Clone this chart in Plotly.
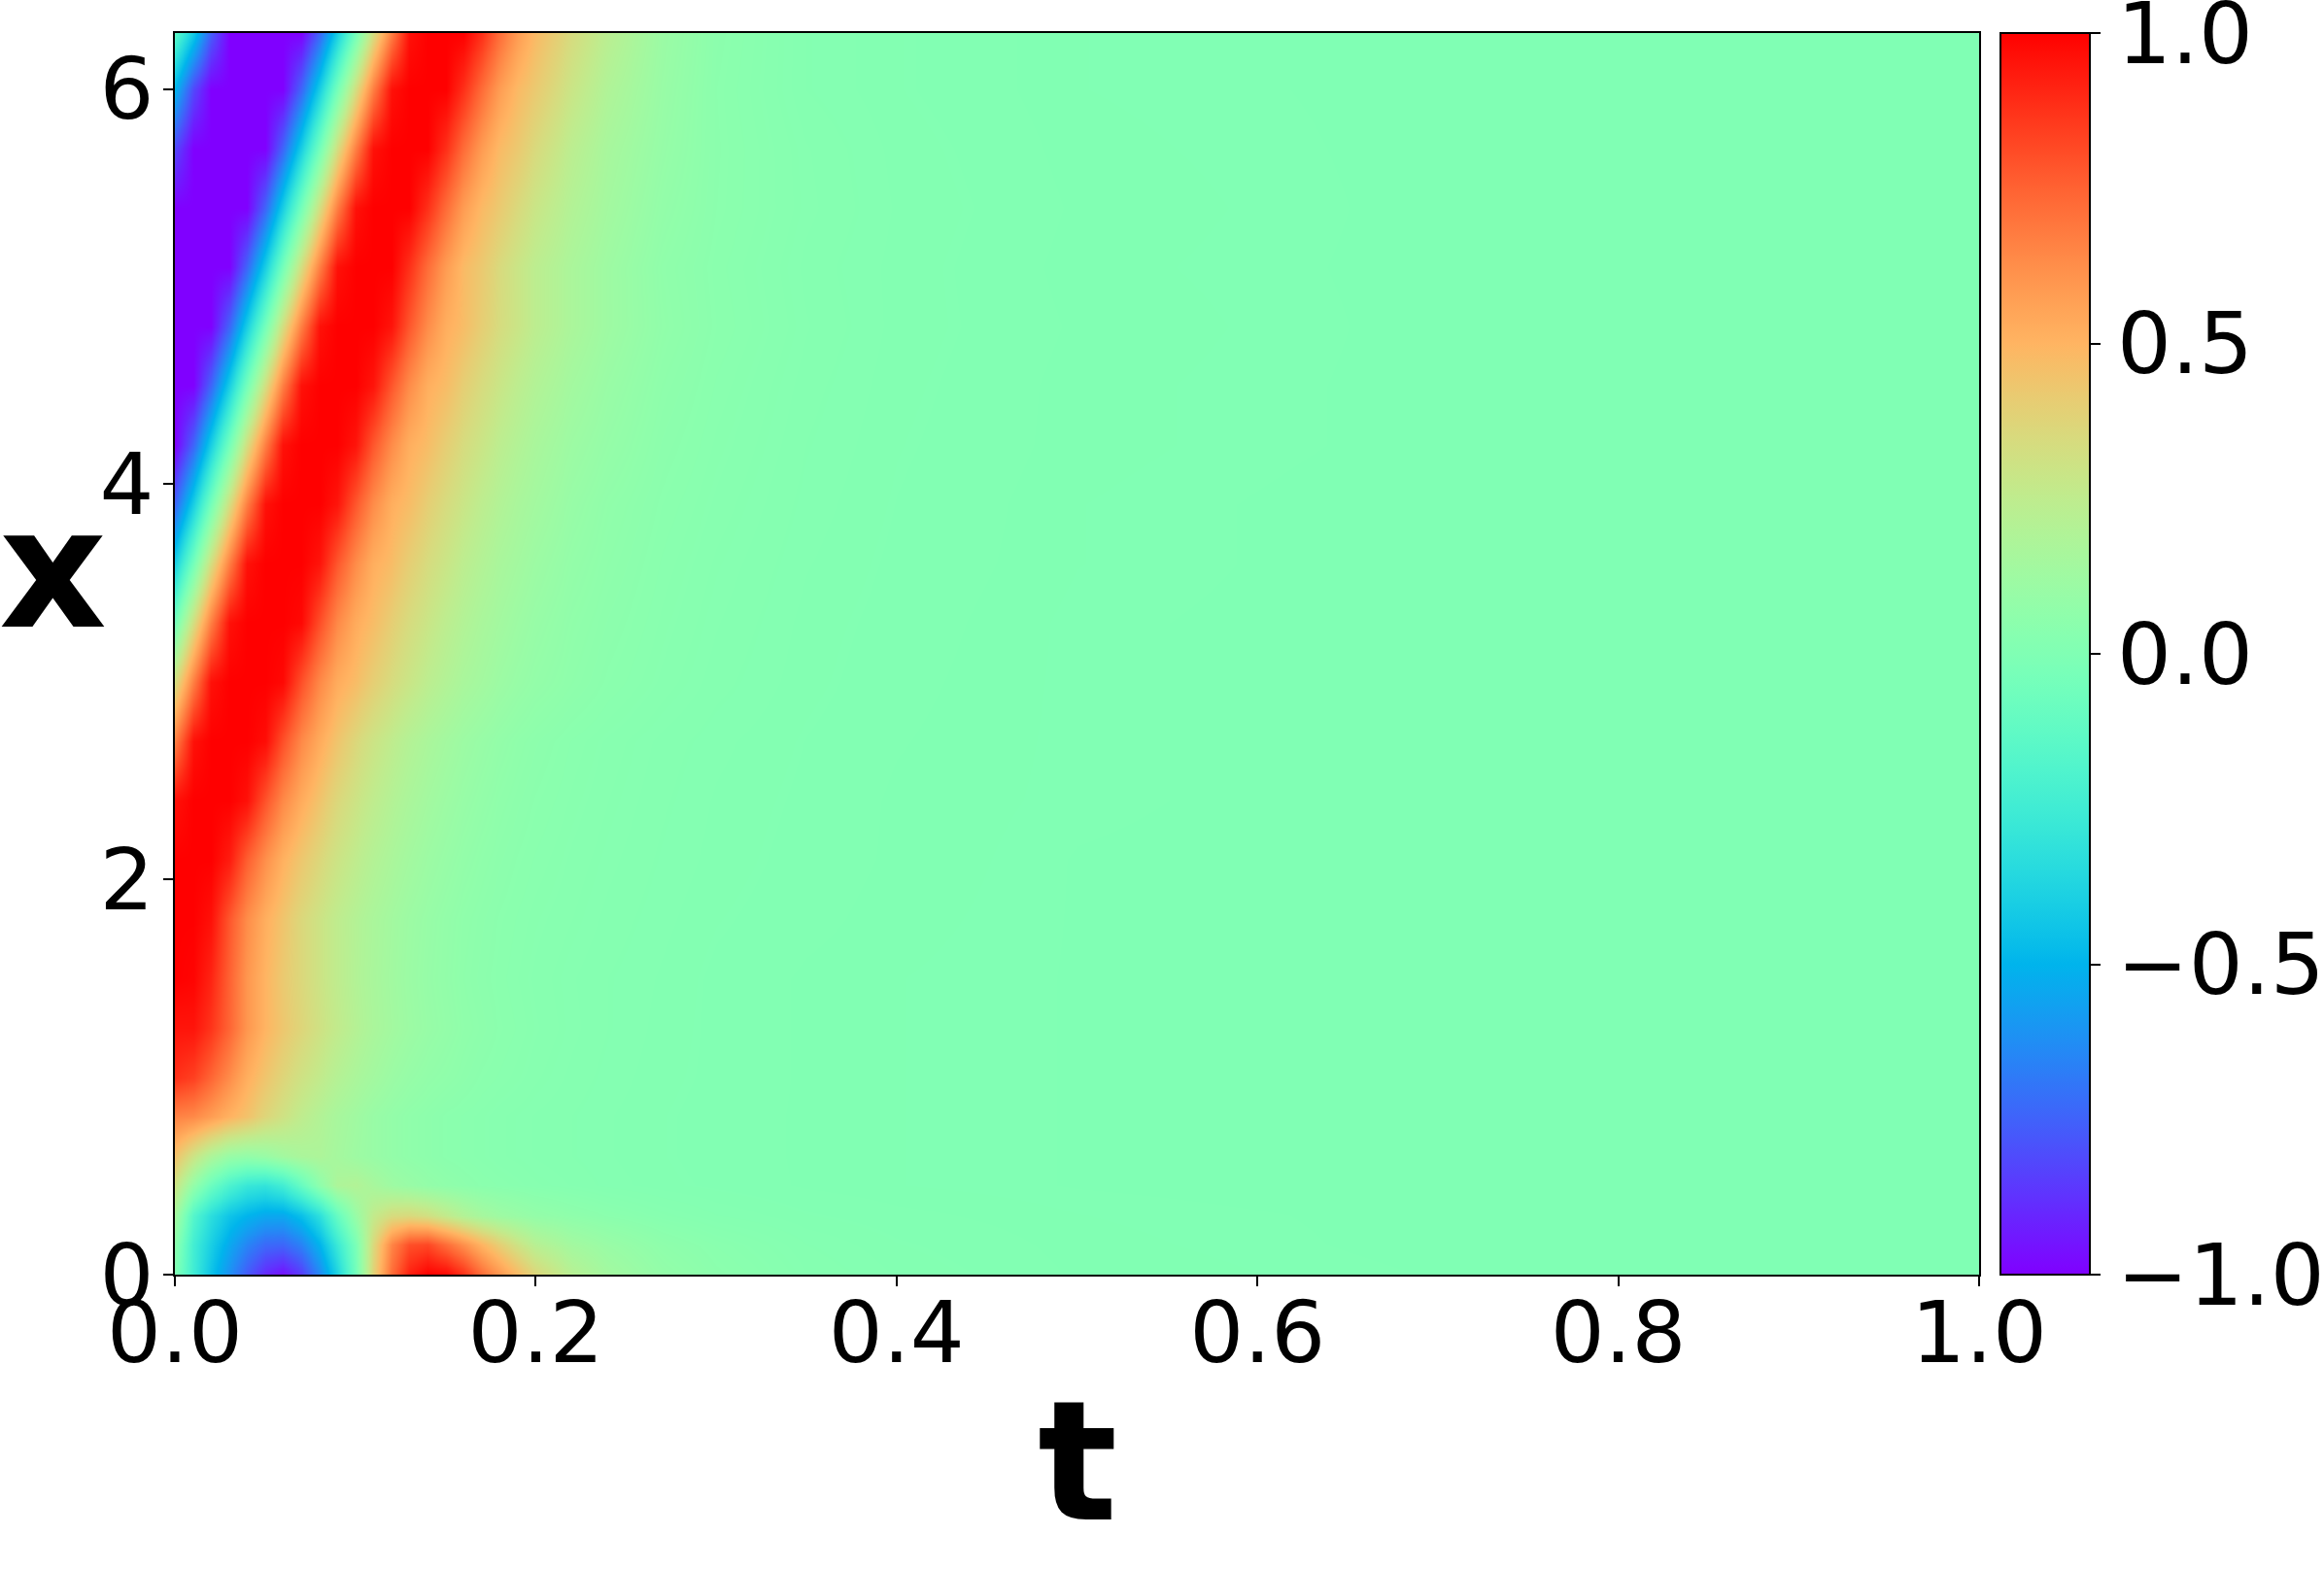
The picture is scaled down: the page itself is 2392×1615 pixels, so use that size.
import numpy as np
import plotly.graph_objects as go

# ---------------- data ----------------
# time coordinates (columns) and space coordinates (rows)
t_vals = [0.00, 0.01, 0.02, 0.03, 0.04, 0.05, 0.06, 0.07, 0.08, 0.09, 0.10,
          0.11, 0.12, 0.13, 0.14, 0.15, 0.16, 0.17, 0.18, 0.19, 0.20,
          0.22, 0.24, 0.27, 0.30, 0.35, 0.40, 0.50, 0.70, 1.00]
x_vals = [0.0, 0.15, 0.3, 0.45, 0.6, 0.8, 1.0, 1.25, 1.5, 1.8, 2.1, 2.4, 2.7,
          3.0, 3.3, 3.6, 3.9, 4.2, 4.5, 4.8, 5.1, 5.4, 5.7, 6.0, 6.283]

u_x000 = [0.0, -0.25, -0.45, -0.62, -0.77, -0.9, -0.96, -0.85, -0.64, -0.38, -0.05, 0.38, 0.72, 0.92, 1.0, 0.98, 0.88, 0.72, 0.6, 0.48, 0.37, 0.22, 0.14, 0.08, 0.05, 0.025, 0.015, 0.006, 0.002, 0.0]
u_x015 = [0.05, -0.24, -0.4, -0.54, -0.65, -0.73, -0.74, -0.66, -0.5, -0.27, -0.02, 0.35, 0.65, 0.8, 0.82, 0.72, 0.62, 0.5, 0.4, 0.3, 0.22, 0.14, 0.1, 0.06, 0.04, 0.02, 0.012, 0.005, 0.001, 0.0]
u_x030 = [0.15, -0.17, -0.33, -0.44, -0.5, -0.54, -0.54, -0.46, -0.32, -0.1, 0.1, 0.26, 0.34, 0.35, 0.32, 0.26, 0.2, 0.15, 0.12, 0.1, 0.08, 0.06, 0.045, 0.03, 0.02, 0.012, 0.008, 0.004, 0.001, 0.0]
u_x045 = [0.3, 0.08, -0.08, -0.2, -0.28, -0.3, -0.24, -0.1, 0.06, 0.18, 0.2, 0.16, 0.12, 0.1, 0.08, 0.065, 0.055, 0.045, 0.04, 0.035, 0.03, 0.024, 0.018, 0.013, 0.01, 0.006, 0.004, 0.002, 0.0, 0.0]
u_x060 = [0.45, 0.3, 0.18, 0.1, 0.08, 0.1, 0.14, 0.17, 0.18, 0.15, 0.12, 0.1, 0.08, 0.065, 0.055, 0.045, 0.04, 0.035, 0.03, 0.027, 0.024, 0.02, 0.016, 0.012, 0.009, 0.006, 0.004, 0.002, 0.0, 0.0]
u_x080 = [0.66, 0.64, 0.58, 0.51, 0.45, 0.37, 0.31, 0.25, 0.2, 0.16, 0.13, 0.1, 0.08, 0.065, 0.055, 0.045, 0.04, 0.035, 0.03, 0.027, 0.024, 0.02, 0.016, 0.012, 0.009, 0.006, 0.004, 0.002, 0.0, 0.0]
u_x100 = [0.88, 0.84, 0.74, 0.63, 0.52, 0.44, 0.37, 0.31, 0.26, 0.21, 0.17, 0.14, 0.11, 0.09, 0.075, 0.065, 0.055, 0.045, 0.04, 0.035, 0.03, 0.023, 0.018, 0.013, 0.01, 0.006, 0.004, 0.002, 0.0, 0.0]
u_x125 = [0.95, 0.95, 0.87, 0.74, 0.6, 0.5, 0.43, 0.37, 0.31, 0.26, 0.21, 0.17, 0.14, 0.115, 0.095, 0.08, 0.065, 0.055, 0.046, 0.04, 0.034, 0.026, 0.02, 0.014, 0.01, 0.006, 0.004, 0.002, 0.0, 0.0]
u_x150 = [1.0, 0.99, 0.91, 0.75, 0.6, 0.5, 0.42, 0.36, 0.3, 0.25, 0.2, 0.165, 0.135, 0.11, 0.09, 0.075, 0.06, 0.05, 0.043, 0.037, 0.032, 0.025, 0.02, 0.015, 0.01, 0.006, 0.004, 0.002, 0.0, 0.0]
u_x180 = [1.0, 1.0, 0.96, 0.78, 0.63, 0.52, 0.44, 0.36, 0.30, 0.25, 0.205, 0.17, 0.14, 0.115, 0.095, 0.078, 0.064, 0.054, 0.046, 0.04, 0.035, 0.029, 0.023, 0.017, 0.012, 0.008, 0.005, 0.002, 0.0, 0.0]
u_x210 = [1.0, 1.0, 1.0, 0.93, 0.76, 0.62, 0.51, 0.43, 0.36, 0.30, 0.25, 0.205, 0.17, 0.14, 0.115, 0.095, 0.078, 0.064, 0.054, 0.046, 0.04, 0.032, 0.026, 0.019, 0.014, 0.009, 0.006, 0.002, 0.0, 0.0]
u_x240 = [0.96, 1.0, 1.0, 1.0, 0.96, 0.79, 0.64, 0.53, 0.44, 0.36, 0.30, 0.25, 0.205, 0.17, 0.14, 0.115, 0.095, 0.078, 0.064, 0.054, 0.046, 0.036, 0.029, 0.021, 0.015, 0.01, 0.006, 0.003, 0.0, 0.0]
u_x270 = [0.67, 0.96, 1.0, 1.0, 1.0, 0.97, 0.80, 0.64, 0.53, 0.44, 0.36, 0.30, 0.25, 0.205, 0.17, 0.14, 0.115, 0.095, 0.078, 0.064, 0.054, 0.04, 0.032, 0.023, 0.017, 0.011, 0.007, 0.003, 0.0, 0.0]
u_x300 = [0.33, 0.67, 0.96, 1.0, 1.0, 1.0, 0.98, 0.80, 0.64, 0.53, 0.47, 0.40, 0.34, 0.29, 0.24, 0.20, 0.165, 0.14, 0.115, 0.095, 0.08, 0.06, 0.045, 0.032, 0.022, 0.013, 0.008, 0.003, 0.0, 0.0]
u_x330 = [-0.04, 0.33, 0.67, 0.96, 1.0, 1.0, 1.0, 0.98, 0.80, 0.64, 0.53, 0.47, 0.40, 0.34, 0.29, 0.24, 0.20, 0.165, 0.14, 0.115, 0.095, 0.068, 0.052, 0.036, 0.025, 0.014, 0.009, 0.003, 0.0, 0.0]
u_x360 = [-0.40, -0.04, 0.33, 0.67, 0.96, 1.0, 1.0, 1.0, 0.95, 0.78, 0.63, 0.52, 0.47, 0.40, 0.34, 0.29, 0.24, 0.20, 0.165, 0.14, 0.115, 0.08, 0.06, 0.04, 0.028, 0.016, 0.01, 0.004, 0.0, 0.0]
u_x390 = [-0.74, -0.40, -0.04, 0.33, 0.67, 0.96, 1.0, 1.0, 1.0, 0.95, 0.78, 0.63, 0.52, 0.47, 0.40, 0.34, 0.29, 0.24, 0.20, 0.165, 0.14, 0.095, 0.068, 0.045, 0.032, 0.018, 0.011, 0.004, 0.0, 0.0]
u_x420 = [-1.0, -0.74, -0.40, -0.04, 0.33, 0.67, 0.96, 1.0, 1.0, 1.0, 0.95, 0.78, 0.63, 0.52, 0.47, 0.40, 0.34, 0.29, 0.24, 0.20, 0.165, 0.115, 0.085, 0.052, 0.036, 0.02, 0.012, 0.005, 0.001, 0.0]
u_x450 = [-1.0, -1.0, -0.74, -0.40, -0.04, 0.33, 0.67, 0.96, 1.0, 1.0, 1.0, 0.95, 0.78, 0.63, 0.52, 0.47, 0.40, 0.34, 0.29, 0.24, 0.20, 0.14, 0.1, 0.06, 0.04, 0.022, 0.013, 0.005, 0.001, 0.0]
u_x480 = [-1.0, -1.0, -1.0, -0.74, -0.40, -0.04, 0.33, 0.67, 0.96, 1.0, 1.0, 1.0, 0.95, 0.78, 0.63, 0.52, 0.47, 0.40, 0.34, 0.29, 0.24, 0.17, 0.12, 0.07, 0.045, 0.025, 0.014, 0.006, 0.001, 0.0]
u_x510 = [-1.0, -1.0, -1.0, -1.0, -0.74, -0.40, -0.04, 0.33, 0.67, 0.96, 1.0, 1.0, 1.0, 0.88, 0.72, 0.58, 0.48, 0.42, 0.35, 0.29, 0.24, 0.17, 0.12, 0.066, 0.043, 0.023, 0.014, 0.005, 0.001, 0.0]
u_x540 = [-1.0, -1.0, -1.0, -1.0, -1.0, -0.74, -0.40, -0.04, 0.33, 0.67, 0.96, 1.0, 1.0, 1.0, 0.88, 0.72, 0.58, 0.48, 0.42, 0.35, 0.29, 0.2, 0.14, 0.078, 0.047, 0.026, 0.015, 0.006, 0.001, 0.0]
u_x570 = [-0.82, -1.0, -1.0, -1.0, -1.0, -1.0, -0.74, -0.40, -0.04, 0.33, 0.67, 0.96, 1.0, 1.0, 1.0, 0.88, 0.72, 0.58, 0.48, 0.42, 0.35, 0.235, 0.157, 0.09, 0.048, 0.025, 0.014, 0.005, 0.001, 0.0]
u_x600 = [-0.50, -0.82, -1.0, -1.0, -1.0, -1.0, -1.0, -0.74, -0.40, -0.04, 0.33, 0.67, 0.96, 1.0, 1.0, 1.0, 0.88, 0.72, 0.58, 0.48, 0.42, 0.29, 0.19, 0.1, 0.047, 0.02, 0.012, 0.004, 0.001, 0.0]
u_x628 = [-0.14, -0.42, -0.76, -1.0, -1.0, -1.0, -1.0, -1.0, -0.74, -0.40, -0.04, 0.33, 0.67, 0.96, 1.0, 1.0, 1.0, 0.88, 0.72, 0.58, 0.48, 0.34, 0.23, 0.11, 0.05, 0.02, 0.012, 0.004, 0.001, 0.0]

u_rows = [u_x000, u_x015, u_x030, u_x045, u_x060, u_x080, u_x100, u_x125, u_x150,
          u_x180, u_x210, u_x240, u_x270, u_x300, u_x330, u_x360, u_x390, u_x420,
          u_x450, u_x480, u_x510, u_x540, u_x570, u_x600, u_x628]

t_ticks = [0.0, 0.2, 0.4, 0.6, 0.8, 1.0]
t_ticktext = ["0.0", "0.2", "0.4", "0.6", "0.8", "1.0"]
x_ticks = [0, 2, 4, 6]
x_ticktext = ["0", "2", "4", "6"]
cb_ticks = [-1.0, -0.5, 0.0, 0.5, 1.0]
cb_ticktext = ["\u22121.0", "\u22120.5", "0.0", "0.5", "1.0"]

# ---------------- style: matplotlib "rainbow" colormap ----------------
def rainbow_rgb(s):
    r = min(1.0, abs(2 * s - 0.5))
    g = np.sin(np.pi * s)
    b = np.cos(np.pi * s / 2)
    return "rgb(%d,%d,%d)" % (round(255 * r), round(255 * max(g, 0)), round(255 * max(b, 0)))

colorscale = [[float(s), rainbow_rgb(float(s))] for s in np.linspace(0, 1, 65)]

W, H = 2392, 1615
L, R, T, B = 180, 2392 - 2037, 34, 1615 - 1312
plot_w = W - L - R
plot_h = H - T - B

tick_font = dict(family="DejaVu Sans", size=88, color="black")

fig = go.Figure(
    go.Heatmap(
        x=t_vals, y=x_vals, z=u_rows,
        zmin=-1, zmax=1, zsmooth="best",
        colorscale=colorscale,
        colorbar=dict(
            thickness=92, thicknessmode="pixels",
            len=plot_h, lenmode="pixels",
            x=(2059 - L) / plot_w, xanchor="left", xpad=0, ypad=0,
            y=0.5, yanchor="middle",
            outlinewidth=2, outlinecolor="black",
            ticks="outside", ticklen=10, tickwidth=2, tickcolor="black",
            tickvals=cb_ticks, ticktext=cb_ticktext,
            tickfont=tick_font, ticklabeloverflow="allow",
        ),
        showscale=True,
    )
)

axis_common = dict(
    showgrid=False, zeroline=False, showline=True, linecolor="black",
    linewidth=2, mirror=True, ticks="outside", ticklen=10, tickwidth=2,
    tickcolor="black", tickfont=tick_font, automargin=False,
    ticklabeloverflow="allow",
)

fig.update_layout(
    width=W, height=H,
    margin=dict(l=L, r=R, t=T, b=B, pad=0, autoexpand=False),
    paper_bgcolor="white", plot_bgcolor="white",
    xaxis=dict(range=[0, 1], tickvals=t_ticks, ticktext=t_ticktext,
               ticklabelstandoff=-28, **axis_common),
    yaxis=dict(range=[0, 6.2832], tickvals=x_ticks, ticktext=x_ticktext,
               ticklabelstandoff=-8, **axis_common),
    annotations=[
        dict(text="<b>t</b>", xref="paper", yref="paper",
             x=0.5, y=(1312 - 1504) / plot_h, xanchor="center", yanchor="middle",
             showarrow=False, font=dict(family="DejaVu Sans", size=172, color="black")),
        dict(text="<b>x</b>", xref="paper", yref="paper",
             x=(54 - L) / plot_w, y=(1312 - 585) / plot_h, xanchor="center", yanchor="middle",
             showarrow=False, font=dict(family="DejaVu Sans", size=172, color="black")),
    ],
)

fig.write_html("out.html",
               config={"displayModeBar": False},
               post_script="document.body.style.margin='0px';document.body.style.overflow='hidden';")
